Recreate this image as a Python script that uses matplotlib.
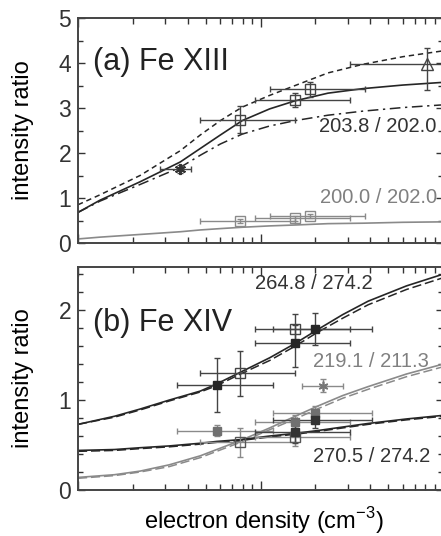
import numpy as np
import matplotlib
matplotlib.use('Agg')
import matplotlib.pyplot as plt

###############################################################################
# Data (log10 of electron density, ratio)
###############################################################################
# (a) Fe XIII model curves
aLogN = [8.0, 8.12, 8.34, 8.56, 8.67, 8.78, 8.90, 9.05, 9.19, 9.37, 9.56, 9.78, 10.0]
aSolid = [0.68, 0.95, 1.36, 1.80, 2.10, 2.40, 2.72, 2.98, 3.16, 3.33, 3.43, 3.51, 3.57]
aDash = [0.85, 1.07, 1.50, 2.05, 2.40, 2.72, 3.02, 3.28, 3.50, 3.78, 3.97, 4.14, 4.27]
aDashDot = [0.68, 0.93, 1.30, 1.68, 1.95, 2.20, 2.42, 2.60, 2.72, 2.84, 2.93, 3.01, 3.07]
aGrey = [0.09, 0.13, 0.19, 0.25, 0.29, 0.32, 0.35, 0.38, 0.40, 0.43, 0.44, 0.46, 0.47]
# (a) observations 203.8/202.0
a1LogN = [8.89, 9.19, 9.27]
a1Val = [2.73, 3.18, 3.42]
a1Lo = [8.67, 8.97, 9.05]
a1Hi = [9.19, 9.49, 9.57]
a1ErrDn = [0.28, 0.16, 0.18]
a1ErrUp = [0.32, 0.16, 0.16]
a1StarLogN, a1StarVal, a1StarLo, a1StarHi, a1StarErr = 8.56, 1.65, 8.45, 8.62, 0.09
a1TriLogN, a1TriVal, a1TriLo, a1TriHi = 9.91, 3.97, 9.49, 10.3
a1TriErrDn, a1TriErrUp = 0.58, 0.37
# (a) observations 200.0/202.0
a2LogN = [8.89, 9.19, 9.27]
a2Val = [0.49, 0.55, 0.60]
a2Lo = [8.67, 8.97, 9.05]
a2Hi = [9.19, 9.49, 9.57]
a2Err = [0.05, 0.05, 0.05]

# (b) Fe XIV model curves
bLogN = [8.0, 8.2, 8.34, 8.5, 8.67, 8.76, 8.89, 9.05, 9.19, 9.31, 9.45, 9.59, 9.8, 10.0]
b1Solid = [0.73, 0.82, 0.90, 1.00, 1.10, 1.18, 1.31, 1.47, 1.63, 1.78, 1.95, 2.10, 2.27, 2.40]
b1Dash = [0.73, 0.81, 0.89, 0.99, 1.09, 1.16, 1.29, 1.44, 1.60, 1.75, 1.91, 2.06, 2.23, 2.36]
b2Solid = [0.14, 0.17, 0.21, 0.28, 0.38, 0.45, 0.55, 0.69, 0.82, 0.93, 1.05, 1.15, 1.29, 1.40]
b2Dash = [0.13, 0.16, 0.20, 0.26, 0.36, 0.43, 0.53, 0.67, 0.79, 0.90, 1.02, 1.12, 1.26, 1.37]
b3Solid = [0.44, 0.45, 0.47, 0.49, 0.52, 0.54, 0.56, 0.60, 0.63, 0.66, 0.70, 0.74, 0.79, 0.83]
b3Dash = [0.43, 0.44, 0.46, 0.48, 0.51, 0.53, 0.55, 0.59, 0.62, 0.65, 0.69, 0.73, 0.78, 0.82]
# (b) observations 264.8/274.2
b1FillLogN = [8.76, 9.19, 9.30]
b1FillVal = [1.17, 1.63, 1.79]
b1FillLo = [8.54, 8.97, 9.07]
b1FillHi = [9.07, 9.49, 9.61]
b1FillErrDn = [0.30, 0.26, 0.18]
b1FillErrUp = [0.30, 0.20, 0.18]
b1OpenLogN = [8.89, 9.19]
b1OpenVal = [1.30, 1.79]
b1OpenLo = [8.67, 8.97]
b1OpenHi = [9.19, 9.49]
b1OpenErr = [0.25, 0.17]
# (b) observations 219.1/211.3
b2FillLogN = [8.76, 9.19, 9.30]
b2FillVal = [0.66, 0.76, 0.86]
b2FillLo = [8.54, 8.97, 9.07]
b2FillHi = [9.07, 9.49, 9.61]
b2FillErr = [0.06, 0.07, 0.07]
b2StarLogN, b2StarVal, b2StarLo, b2StarHi, b2StarErr = 9.34, 1.16, 9.23, 9.45, 0.07
# (b) observations 270.5/274.2
b3FillLogN = [9.19, 9.30]
b3FillVal = [0.64, 0.78]
b3FillLo = [8.97, 9.07]
b3FillHi = [9.49, 9.61]
b3FillErr = [0.12, 0.09]
b3OpenLogN = [8.89, 9.19]
b3OpenVal = [0.53, 0.59]
b3OpenLo = [8.67, 8.97]
b3OpenHi = [9.19, 9.49]
b3OpenErr = [0.16, 0.10]

###############################################################################
# Style
###############################################################################
plt.rcParams['font.family'] = ['Liberation Sans', 'DejaVu Sans']
plt.rcParams['mathtext.fontset'] = 'custom'
plt.rcParams['mathtext.rm'] = 'Liberation Sans'
dkColor = '#262626'
gyColor = '#8a8a8a'
txDark = '#333333'
txGrey = '#808080'
W, H = 441, 536


def dens(lst):
    return np.power(10.0, np.asarray(lst, dtype=float))


def obs(ax, lx, y, lo, hi, dn, up, color, **kw):
    x = dens(lx)
    xerr = [x - dens(lo), dens(hi) - x]
    ax.errorbar(
        x, y, xerr=xerr, yerr=[dn, up], fmt='none',
        ecolor=color, elinewidth=1.0, capsize=2.5, capthick=1.0, zorder=3
    )
    ax.plot(x, y, linestyle='none', zorder=4, **kw)


def style(ax, ylim, ymaj, ymin):
    ax.set_xscale('log')
    ax.set_xlim(1e8, 1e10)
    ax.set_ylim(*ylim)
    ax.set_yticks(np.arange(0, ylim[1] + 1e-6, ymaj))
    ax.set_yticks(np.arange(0, ylim[1] + 1e-6, ymin), minor=True)
    ax.tick_params(which='both', direction='in', top=True, right=True,
                   labelbottom=False, colors='#333333', width=1.0)
    ax.tick_params(axis='x', which='major', length=6.5)
    ax.tick_params(axis='x', which='minor', length=4)
    ax.tick_params(axis='y', which='major', length=5, labelsize=16.5, pad=5)
    ax.tick_params(axis='y', which='minor', length=3.5)
    for sp in ax.spines.values():
        sp.set_color('#444444')
        sp.set_linewidth(1.4)
    ax.set_ylabel('intensity ratio', fontsize=17)
    ax.yaxis.set_label_coords(-0.12, 0.5)


###############################################################################
# Figure
###############################################################################
fig = plt.figure(figsize=(W / 100, H / 100), dpi=100)
axA = fig.add_axes([78 / W, 1 - 243 / H, 365 / W, 225 / H])
axB = fig.add_axes([78 / W, 1 - 490 / H, 365 / W, 223 / H])

# ---- (a) Fe XIII
x = dens(aLogN)
axA.plot(x, aDash, color=dkColor, lw=1.1, ls=(0, (3.5, 2.5)))
axA.plot(x, aSolid, color=dkColor, lw=1.2)
axA.plot(x, aDashDot, color=dkColor, lw=1.1, ls=(0, (7, 3, 1.5, 3)))
axA.plot(x, aGrey, color=gyColor, lw=1.2)
obs(axA, a1LogN, a1Val, a1Lo, a1Hi, a1ErrDn, a1ErrUp, '#444444',
    marker='s', ms=6.5, mfc='none', mec='#444444', mew=1.0)
obs(axA, [a1StarLogN], [a1StarVal], [a1StarLo], [a1StarHi],
    [a1StarErr], [a1StarErr], '#444444',
    marker=(6, 2, 0), ms=8, mec='#333333', mew=1.4)
obs(axA, [a1TriLogN], [a1TriVal], [a1TriLo], [a1TriHi],
    [a1TriErrDn], [a1TriErrUp], '#444444',
    marker='^', ms=8, mfc='none', mec='#444444', mew=1.0)
obs(axA, a2LogN, a2Val, a2Lo, a2Hi, a2Err, a2Err, gyColor,
    marker='s', ms=6.5, mfc='none', mec=gyColor, mew=1.0)
style(axA, (0, 5), 1, 0.5)
axA.text(0.041, 0.804, '(a) Fe XIII', transform=axA.transAxes,
         fontsize=22, color='#222222', ha='left', va='center')
axA.text(0.983, 0.516, '203.8 / 202.0', transform=axA.transAxes,
         fontsize=14.5, color=txDark, ha='right', va='center')
axA.text(0.983, 0.204, '200.0 / 202.0', transform=axA.transAxes,
         fontsize=14.5, color=txGrey, ha='right', va='center')

# ---- (b) Fe XIV
x = dens(bLogN)
axB.plot(x, b1Solid, color=dkColor, lw=1.2)
axB.plot(x, b1Dash, color=dkColor, lw=1.1, ls=(0, (6, 2.5)))
axB.plot(x, b2Solid, color=gyColor, lw=1.2)
axB.plot(x, b2Dash, color=gyColor, lw=1.1, ls=(0, (6, 2.5)))
axB.plot(x, b3Solid, color=dkColor, lw=1.2)
axB.plot(x, b3Dash, color=dkColor, lw=1.1, ls=(0, (6, 2.5)))
obs(axB, b3OpenLogN, b3OpenVal, b3OpenLo, b3OpenHi, b3OpenErr, b3OpenErr,
    gyColor, marker='s', ms=6.5, mfc='none', mec='#555555', mew=1.0)
obs(axB, b2FillLogN, b2FillVal, b2FillLo, b2FillHi, b2FillErr, b2FillErr,
    gyColor, marker='s', ms=6, mfc='#707070', mec='#707070')
obs(axB, [b2StarLogN], [b2StarVal], [b2StarLo], [b2StarHi],
    [b2StarErr], [b2StarErr], gyColor,
    marker=(6, 2, 0), ms=7, mec='#777777', mew=1.2)
obs(axB, b3FillLogN, b3FillVal, b3FillLo, b3FillHi, b3FillErr, b3FillErr,
    '#444444', marker='s', ms=6, mfc='#333333', mec='#333333')
obs(axB, b1OpenLogN, b1OpenVal, b1OpenLo, b1OpenHi, b1OpenErr, b1OpenErr,
    '#444444', marker='s', ms=6.5, mfc='none', mec='#444444', mew=1.0)
obs(axB, b1FillLogN, b1FillVal, b1FillLo, b1FillHi, b1FillErrDn, b1FillErrUp,
    '#444444', marker='s', ms=6, mfc='#262626', mec='#262626')
style(axB, (0, 2.48), 1, 0.2)
axB.text(0.041, 0.749, '(b) Fe XIV', transform=axB.transAxes,
         fontsize=22, color='#222222', ha='left', va='center')
axB.text(0.486, 0.928, '264.8 / 274.2', transform=axB.transAxes,
         fontsize=14.5, color=txDark, ha='left', va='center')
axB.text(0.643, 0.574, '219.1 / 211.3', transform=axB.transAxes,
         fontsize=14.5, color=txGrey, ha='left', va='center')
axB.text(0.643, 0.148, '270.5 / 274.2', transform=axB.transAxes,
         fontsize=14.5, color=txDark, ha='left', va='center')
axB.set_xlabel(r'electron density (cm$^{-3}$)', fontsize=17)
axB.xaxis.set_label_coords(0.508, -0.135)
axB.xaxis.label.set_verticalalignment('center')

###############################################################################
# Export
###############################################################################
fig.savefig('out.png', dpi=100, facecolor='white')
plt.close('all')
